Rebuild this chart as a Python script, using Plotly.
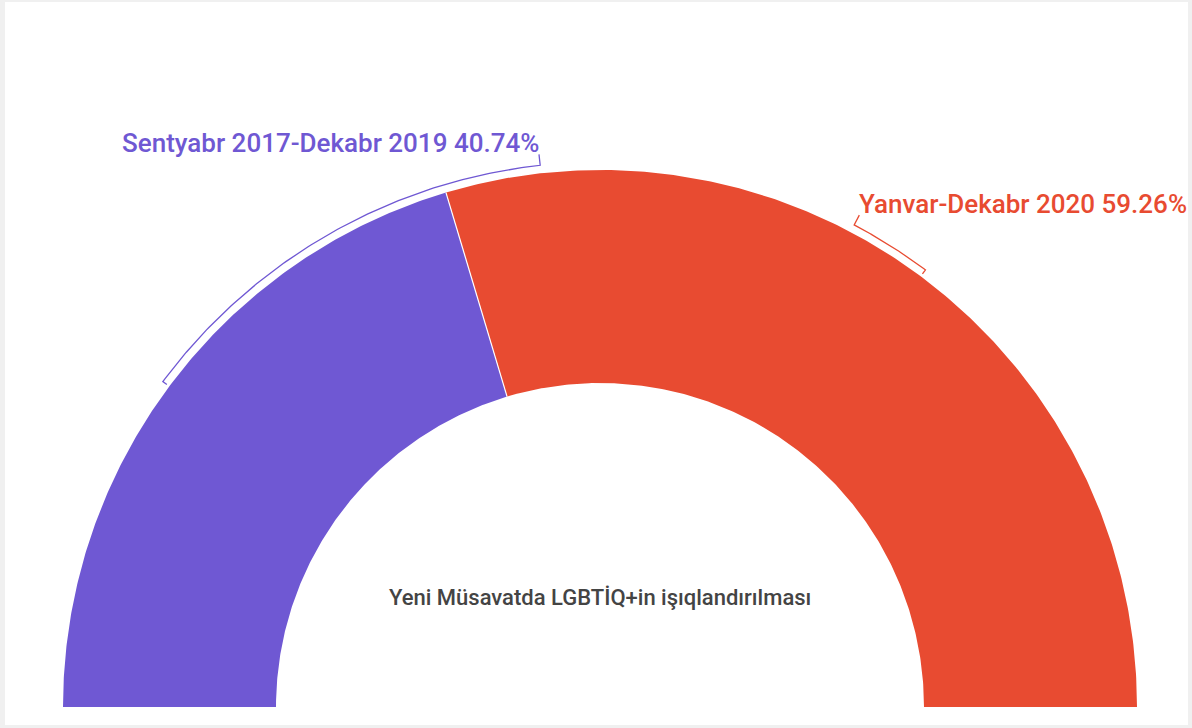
import numpy as np
import plotly.graph_objects as go

# ---- data ----
categories = ["Sentyabr 2017-Dekabr 2019", "Yanvar-Dekabr 2020"]
shares = [40.74, 59.26]
colors = ["#6f58d3", "#e84b31"]
center_title = "Yeni Müsavatda LGBTİQ+in işıqlandırılması"

# ---- geometry (pixel space) ----
W, H = 1192, 728
CX, CY = 600, 707
R_OUT, R_IN = 537, 324
label_angles = [96.3, 62.2]     # where each bracket meets its label (deg)
label_pos = [(541, 143, "right"), (857, 204, "left")]

fig = go.Figure()

# slices
start = 180.0
bounds = []
for cat, val, col in zip(categories, shares, colors):
    sweep = val / sum(shares) * 180.0
    a0, a1 = start, start - sweep
    t = np.radians(np.linspace(a0, a1, 240))
    xs = np.concatenate([CX + R_OUT * np.cos(t), CX + R_IN * np.cos(t[::-1])])
    ys = np.concatenate([CY - R_OUT * np.sin(t), CY - R_IN * np.sin(t[::-1])])
    fig.add_trace(go.Scatter(x=xs, y=ys, fill="toself", fillcolor=col, mode="lines",
                             line=dict(width=0, color=col), hoverinfo="skip", showlegend=False))
    bounds.append((a0, a1))
    start = a1

# white separator
ab = np.radians(bounds[0][1])
fig.add_trace(go.Scatter(x=[CX + R_IN * np.cos(ab), CX + R_OUT * np.cos(ab)],
                         y=[CY - R_IN * np.sin(ab), CY - R_OUT * np.sin(ab)],
                         mode="lines", line=dict(color="white", width=1.2),
                         hoverinfo="skip", showlegend=False))

# brackets and labels
RB = R_OUT + 8
for (a0, a1), la, col, cat, val, (lx, ly, anc) in zip(bounds, label_angles, colors,
                                                      categories, shares, label_pos):
    mid = (a0 + a1) / 2
    t = np.radians(np.linspace(mid, la, 120))
    tm, tl = np.radians(mid), np.radians(la)
    xs = [CX + (R_OUT + 3) * np.cos(tm)] + list(CX + RB * np.cos(t)) + [CX + (R_OUT + 19) * np.cos(tl)]
    ys = [CY - (R_OUT + 3) * np.sin(tm)] + list(CY - RB * np.sin(t)) + [CY - (R_OUT + 19) * np.sin(tl)]
    fig.add_trace(go.Scatter(x=xs, y=ys, mode="lines", line=dict(color=col, width=1.3),
                             hoverinfo="skip", showlegend=False))
    fig.add_annotation(x=lx, y=ly, xref="x", yref="y", text=f"{cat} {val:.2f}%",
                       showarrow=False, xanchor=anc, yanchor="middle",
                       font=dict(family="Roboto", size=26, color=col, weight=500))

fig.add_annotation(x=CX, y=597, xref="x", yref="y", text=center_title, showarrow=False,
                   xanchor="center", yanchor="middle",
                   font=dict(family="Roboto", size=22, color="#444444", weight=500))

# card
fig.add_shape(type="rect", xref="x", yref="y", x0=5, x1=1188, y0=2, y1=725,
              fillcolor="white", line=dict(width=0), layer="below")

fig.update_layout(
    width=W, height=H, margin=dict(l=0, r=0, t=0, b=0),
    paper_bgcolor="#f0f0f0", plot_bgcolor="rgba(0,0,0,0)",
    xaxis=dict(range=[0, W], visible=False, fixedrange=True),
    yaxis=dict(range=[H, 0], visible=False, fixedrange=True),
    showlegend=False,
)
fig.write_html("out.html", config={"displayModeBar": False},
               post_script="document.body.style.margin='0';document.body.style.overflow='hidden';document.body.style.background='#f0f0f0';")
